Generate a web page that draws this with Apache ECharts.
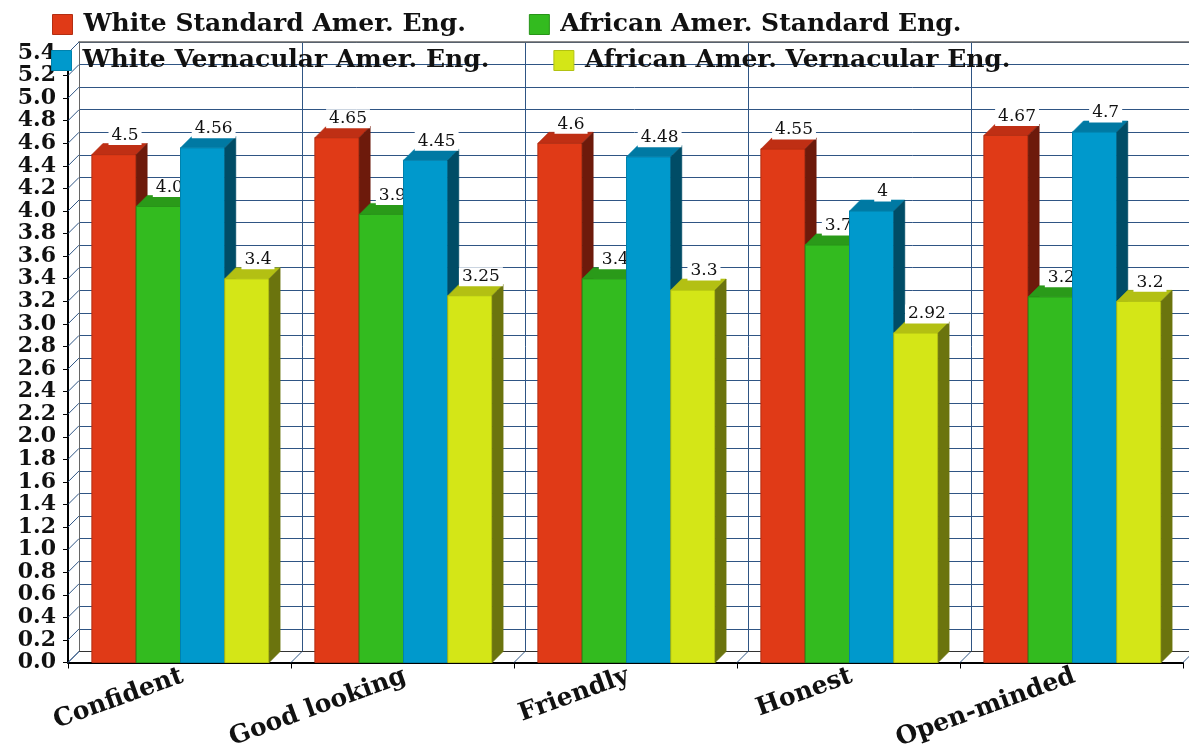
<!DOCTYPE html>
<html>
<head>
<meta charset="utf-8">
<script src="https://cdn.jsdelivr.net/npm/echarts@6.0.0/dist/echarts.min.js"></script>
<style>
  html, body { margin: 0; padding: 0; background: #fff; }
  #chart { width: 1189px; height: 752px; }
</style>
</head>
<body>
<div id="chart"></div>
<script>
// categories and the four speaker groups
const categories = ['Confident', 'Good looking', 'Friendly', 'Honest', 'Open-minded']
const seriesNames = [
  'White Standard Amer. Eng.',
  'African Amer. Standard Eng.',
  'White Vernacular Amer. Eng.',
  'African Amer. Vernacular Eng.',
]
const whiteStandard = [4.5, 4.65, 4.6, 4.55, 4.67]
const africanStandard = [4.04, 3.97, 3.4, 3.7, 3.24]
const whiteVernacular = [4.56, 4.45, 4.48, 4, 4.7]
const africanVernacular = [3.4, 3.25, 3.3, 2.92, 3.2]
const yTicks = [0, 0.2, 0.4, 0.6, 0.8, 1.0, 1.2, 1.4, 1.6, 1.8, 2.0, 2.2, 2.4, 2.6,
  2.8, 3.0, 3.2, 3.4, 3.6, 3.8, 4.0, 4.2, 4.4, 4.6, 4.8, 5.0, 5.2, 5.4]

// front / top / side shades per bar colour
const palette = [
  { front: '#e03a17', top: '#bf2f14', side: '#6d1a0b', edge: '#b32e12' },
  { front: '#33bb1f', top: '#2a9a19', side: '#1a5e10', edge: '#289419' },
  { front: '#0099cc', top: '#0079a3', side: '#004c66', edge: '#0082ad' },
  { front: '#d4e617', top: '#b3c013', side: '#6b740e', edge: '#b2c212' },
]

const FONT = '"DejaVu Serif", "Liberation Serif", serif'
const GRID_BLUE = '#2f5584'
const DX = 11, DY = 11     // depth offset of the back wall
const BAR_FRAC = 0.1987

const chart = echarts.init(document.getElementById('chart'), null, { renderer: 'canvas' })

function barRenderer(s, fmt) {
  const c = palette[s]
  return function (params, api) {
    const i = api.value(0)
    const v = api.value(1)
    const band = api.size([1, 0])[0]
    const bw = band * BAR_FRAC
    const base = api.coord([i, 0])
    const top = api.coord([i, v])
    const x0 = base[0] - 2 * bw + s * bw + 1
    const yb = base[1]
    const yt = top[1]
    return {
      type: 'group',
      children: [
        {
          type: 'rect',
          shape: { x: x0, y: yt, width: bw, height: yb - yt },
          style: { fill: c.front, stroke: c.edge, lineWidth: 1 },
        },
        {
          type: 'polygon',
          shape: { points: [[x0, yt], [x0 + bw, yt], [x0 + bw + DX, yt - DY], [x0 + DX, yt - DY]] },
          style: { fill: c.top, stroke: c.edge, lineWidth: 0.6 },
        },
        {
          type: 'polygon',
          shape: { points: [[x0 + bw, yt], [x0 + bw + DX, yt - DY], [x0 + bw + DX, yb - DY], [x0 + bw, yb]] },
          style: { fill: c.side, stroke: c.side, lineWidth: 0.6 },
        },
        {
          type: 'text',
          x: x0 + bw / 2 + 11,
          y: yt - 19,
          style: {
            text: fmt(v),
            fill: '#111',
            font: '17px ' + FONT,
            align: 'center',
            verticalAlign: 'middle',
            backgroundColor: '#fff',
            padding: [1, 3],
          },
        },
      ],
    }
  }
}

const plain = v => String(v)
const oneDecimal = v => (Math.floor(v * 10 + 1e-9) / 10).toFixed(1)

const values = [whiteStandard, africanStandard, whiteVernacular, africanVernacular]
const formats = [plain, oneDecimal, plain, plain]

const barSeries = values.map((arr, s) => ({
  name: seriesNames[s],
  type: 'custom',
  xAxisIndex: 0,
  yAxisIndex: 0,
  z: 3,
  itemStyle: { color: palette[s].front },
  renderItem: barRenderer(s, formats[s]),
  data: arr.map((v, i) => [i, v]),
}))

const legendText = { fontFamily: FONT, fontWeight: 'bold', fontSize: 25, color: '#111', padding: [0, 0, 0, 6] }

const option = {
  animation: false,
  backgroundColor: '#fff',
  legend: [
    {
      data: seriesNames.slice(0, 2).map((n, k) => ({
        name: n, itemStyle: { borderColor: palette[k].edge, borderWidth: 1 },
      })),
      left: 47, top: 7,
      icon: 'rect', itemWidth: 20, itemHeight: 20, itemGap: 63,
      selectedMode: false,
      textStyle: legendText,
    },
    {
      data: seriesNames.slice(2, 4).map((n, k) => ({
        name: n, itemStyle: { borderColor: palette[k + 2].edge, borderWidth: 1 },
      })),
      left: 46, top: 43,
      icon: 'rect', itemWidth: 20, itemHeight: 20, itemGap: 64,
      selectedMode: false,
      textStyle: legendText,
    },
  ],
  grid: [
    { left: 68, top: 53, width: 1115, height: 609.5, containLabel: false, outerBoundsMode: 'none' },
    { left: 68 + DX, top: 53 - DY, width: 1115, height: 609.5, containLabel: false, outerBoundsMode: 'none' },
  ],
  xAxis: [
    {
      type: 'category', gridIndex: 0, data: categories,
      axisLine: { lineStyle: { color: '#000', width: 2 } },
      axisTick: { show: true, length: 6, lineStyle: { color: '#000' } },
      axisLabel: {
        rotate: 20, margin: 14, interval: 0, padding: [0, -3, 0, 0],
        fontFamily: FONT, fontWeight: 'bold', fontSize: 25, color: '#111',
      },
      splitLine: { show: false },
    },
    {
      type: 'category', gridIndex: 1, data: categories, position: 'bottom',
      axisLine: { lineStyle: { color: '#333', width: 1 } },
      axisTick: { show: false }, axisLabel: { show: false },
      splitLine: { show: true, lineStyle: { color: GRID_BLUE, width: 1 } },
    },
    {
      type: 'category', gridIndex: 1, data: categories, position: 'top',
      axisLine: { lineStyle: { color: '#666', width: 1.5 } },
      axisTick: { show: false }, axisLabel: { show: false },
      splitLine: { show: false },
    },
  ],
  yAxis: [
    {
      type: 'value', gridIndex: 0, min: 0, max: 5.4, interval: 0.2,
      axisLine: { show: true, lineStyle: { color: '#000', width: 2 } },
      axisTick: { show: true, length: 5, lineStyle: { color: '#000' } },
      axisLabel: {
        margin: 12, formatter: v => v.toFixed(1),
        showMinLabel: true, showMaxLabel: true, hideOverlap: false,
        fontFamily: FONT, fontWeight: 'bold', fontSize: 22, color: '#111',
      },
      splitLine: { show: false },
    },
    {
      type: 'value', gridIndex: 1, min: 0, max: 5.4, interval: 0.2,
      axisLine: { show: true, lineStyle: { color: '#666', width: 1 } },
      axisTick: { show: false }, axisLabel: { show: false },
      splitLine: { show: true, lineStyle: { color: GRID_BLUE, width: 1 } },
    },
  ],
  series: [
    {
      // left wall: slanted tick lines from the front axis to the back wall
      name: 'wall', type: 'custom', xAxisIndex: 0, yAxisIndex: 0, z: 1, silent: true,
      renderItem: (params, api) => {
        const cs = params.coordSys
        const y = api.coord([0, api.value(1)])[1]
        return {
          type: 'line',
          shape: { x1: cs.x, y1: y, x2: cs.x + DX, y2: y - DY },
          style: { stroke: GRID_BLUE, lineWidth: 1 },
        }
      },
      data: yTicks.map(v => [0, v]),
    },
    {
      // floor: slanted lines at the category boundaries
      name: 'floor', type: 'custom', xAxisIndex: 0, yAxisIndex: 0, z: 1, silent: true,
      renderItem: (params, api) => {
        const cs = params.coordSys
        const band = api.size([1, 0])[0]
        const x = cs.x + api.value(0) * band
        const y = cs.y + cs.height
        return {
          type: 'line',
          shape: { x1: x, y1: y, x2: x + DX, y2: y - DY },
          style: { stroke: GRID_BLUE, lineWidth: 1 },
        }
      },
      data: [0, 1, 2, 3, 4, 5].map(k => [k, 0]),
    },
    ...barSeries,
  ],
}

chart.setOption(option)
</script>
</body>
</html>
